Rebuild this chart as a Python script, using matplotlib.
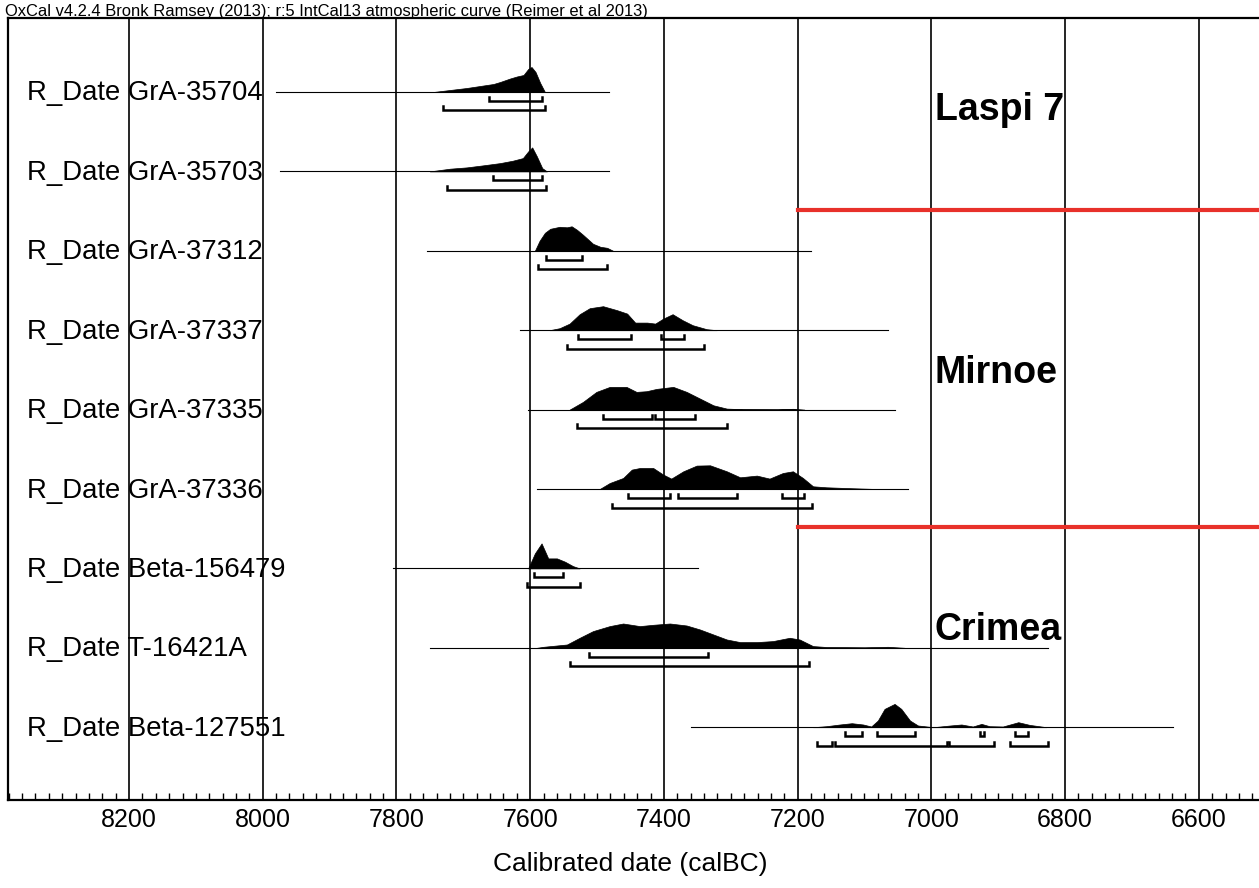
import matplotlib
matplotlib.use("Agg")
import matplotlib.pyplot as plt
from matplotlib.ticker import MultipleLocator, FixedLocator

plt.rcParams['font.family'] = ['Liberation Sans', 'DejaVu Sans']

# ---------------- data ----------------
labels = ["R_Date GrA-35704", "R_Date GrA-35703", "R_Date GrA-37312",
          "R_Date GrA-37337", "R_Date GrA-37335", "R_Date GrA-37336",
          "R_Date Beta-156479", "R_Date T-16421A", "R_Date Beta-127551"]

# extent of thin calibration line (calBC, old -> young)
line_start = [7980, 7974, 7754, 7615, 7603, 7590, 7805, 7750, 7359]
line_end = [7482, 7482, 7180, 7065, 7055, 7035, 7349, 6826, 6638]

# probability distributions: years and relative heights
dens_years = [
    [7745, 7720, 7695, 7670, 7655, 7645, 7630, 7620, 7610, 7603, 7598, 7592, 7585, 7578],
    [7750, 7720, 7695, 7671, 7645, 7626, 7611, 7603, 7597, 7590, 7582, 7575],
    [7593, 7586, 7578, 7570, 7556, 7545, 7538, 7530, 7521, 7506, 7495, 7485, 7476],
    [7571, 7556, 7541, 7526, 7511, 7491, 7470, 7455, 7443, 7425, 7413, 7401, 7387, 7372, 7357, 7336, 7321],
    [7541, 7521, 7501, 7481, 7456, 7441, 7426, 7411, 7386, 7366, 7346, 7326, 7306, 7282, 7230, 7207, 7190],
    [7496, 7481, 7461, 7448, 7436, 7416, 7401, 7389, 7371, 7351, 7331, 7306, 7286, 7261, 7242, 7222,
     7207, 7192, 7177, 7157, 7120, 7082],
    [7603, 7593, 7583, 7573, 7560, 7548, 7536, 7526],
    [7590, 7580, 7545, 7526, 7506, 7481, 7461, 7436, 7416, 7391, 7366, 7346, 7326, 7306, 7286, 7261,
     7237, 7212, 7197, 7177, 7157, 7100, 7065, 7040],
    [7177, 7157, 7137, 7119, 7102, 7090, 7080, 7070, 7055, 7045, 7032, 7020, 6997, 6972, 6955, 6938,
     6925, 6913, 6893, 6870, 6853, 6828],
]
dens_heights = [
    [0, 2, 4, 6.5, 8, 10, 13.5, 15.5, 17, 23, 25, 20, 9, 0],
    [0, 2.7, 4, 6, 8.3, 10.7, 13.3, 20, 24, 15, 3.3, 0],
    [0, 10, 18, 22, 24, 23.5, 24.5, 21, 16, 7, 4, 3, 0],
    [0, 2, 6.6, 16, 22, 24, 20, 16.6, 7.6, 7.6, 6.6, 11.6, 16, 10, 5, 1, 0],
    [0, 7.7, 17.7, 22.7, 22.7, 17.7, 18.4, 20.7, 22.7, 17.7, 11, 4.3, 1, 0.4, 0.3, 0.8, 0],
    [0, 6, 11, 19.4, 21, 21, 14.4, 10.4, 17.7, 23.4, 23.7, 17.7, 11.7, 13.4, 10.4, 16,
     17.7, 11, 2.7, 1.7, 0.8, 0],
    [0, 15, 25, 10, 10, 6.7, 2.3, 0],
    [0, 1, 3.3, 10, 16.7, 21.7, 24.3, 21.7, 23, 24.3, 22.3, 18.3, 13.3, 8.3, 5.7, 5.7,
     6.7, 10, 8.3, 1.7, 0.8, 0.5, 1, 0],
    [0, 1, 2.7, 4, 2.7, 0.7, 6.7, 18.3, 23.3, 18.3, 6.7, 1.7, 0, 1.7, 2.7, 0.7,
     3.3, 1, 0.7, 5, 2.3, 0],
]

# 68.2% and 95.4% ranges (from, to)
range68 = [
    [(7662, 7582)],
    [(7656, 7582)],
    [(7576, 7522)],
    [(7528, 7449), (7404, 7370)],
    [(7491, 7418), (7413, 7353)],
    [(7453, 7391), (7379, 7290), (7224, 7191)],
    [(7595, 7551)],
    [(7512, 7334)],
    [(7129, 7103), (7082, 7025), (6928, 6922), (6875, 6855)],
]
range95 = [
    [(7730, 7578)],
    [(7725, 7577)],
    [(7588, 7485)],
    [(7545, 7340)],
    [(7530, 7306)],
    [(7477, 7178)],
    [(7605, 7526)],
    [(7540, 7183)],
    [(7171, 7149), (7144, 6977), (6973, 6907), (6883, 6826)],
]

groups = ["Laspi 7", "Mirnoe", "Crimea"]
group_rows = [0.23, 3.54, 6.78]
group_year = 6995
separator_rows = [1.49, 5.48]
separator_from = 7200

major_ticks = [8200, 8000, 7800, 7600, 7400, 7200, 7000, 6800, 6600]

# ---------------- figure ----------------
W, H = 1259, 888
fig = plt.figure(figsize=(W / 100, H / 100), dpi=100)
ax_l, ax_r, ax_t, ax_b = 8, 1265, 18, 800
ax = fig.add_axes([ax_l / W, 1 - ax_b / H, (ax_r - ax_l) / W, (ax_b - ax_t) / H])

row0_px, row_step = 92, 79.4
px = 1 / row_step  # one pixel in row units

ax.set_xlim(8381, 6501)
ax.set_ylim((ax_b - row0_px) / row_step, (ax_t - row0_px) / row_step)

for g in major_ticks:
    ax.axvline(g, color='black', lw=1.2, zorder=1)

for i, lab in enumerate(labels):
    ax.plot([line_start[i], line_end[i]], [i, i], color='black', lw=0.8, zorder=2)
    ys = dens_years[i]
    hs = [i - h * px for h in dens_heights[i]]
    ax.fill_between(ys, hs, i, color='black', lw=0.5, zorder=3)
    for off, ranges in ((9, range68[i]), (18.5, range95[i])):
        yb = i + off * px
        for a, b in ranges:
            ax.plot([a, a, b, b], [yb - 4 * px, yb, yb, yb - 4 * px],
                    color='black', lw=1.8, solid_joinstyle='miter', zorder=3)
    ax.text(8352, i + 8.5 * px, lab, fontsize=19.8, va='baseline', ha='left', zorder=4)

for g, r in zip(groups, group_rows):
    ax.text(group_year, r, g, fontsize=27, fontweight='bold', va='center', ha='left', zorder=4)

for r in separator_rows:
    ax.plot([separator_from, 6501], [r, r], color='#e8312a', lw=3, zorder=4, clip_on=True)

ax.xaxis.set_major_locator(FixedLocator(major_ticks))
ax.xaxis.set_minor_locator(MultipleLocator(20))
ax.tick_params(axis='x', which='major', direction='in', length=0, labelsize=18, pad=6)
ax.tick_params(axis='x', which='minor', direction='in', length=5, width=1)
ax.set_yticks([])
for s in ['left', 'top', 'bottom']:
    ax.spines[s].set_linewidth(1.6)
ax.spines['right'].set_visible(False)

fig.text(5 / W, 1 - 16 / H,
         "OxCal v4.2.4 Bronk Ramsey (2013); r:5 IntCal13 atmospheric curve (Reimer et al 2013)",
         fontsize=11.9, va='baseline', ha='left')
fig.text(630 / W, 1 - 864 / H, "Calibrated date (calBC)", fontsize=19, va='center', ha='center')

fig.savefig("out.png", dpi=100)
